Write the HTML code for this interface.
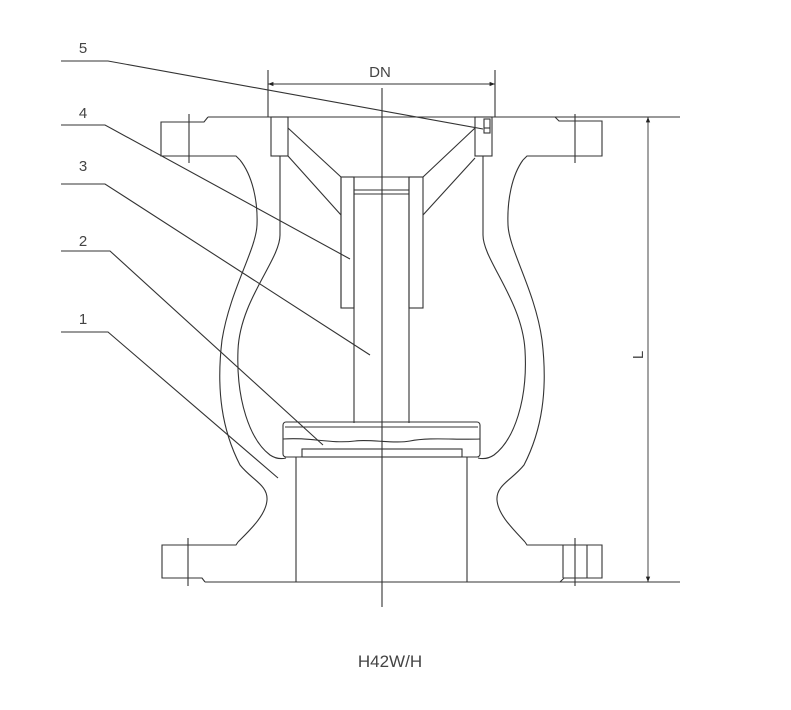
<!DOCTYPE html>
<html><head><style>html,body{margin:0;padding:0;background:#fff;}svg{display:block}</style></head>
<body>
<svg width="791" height="710" viewBox="0 0 791 710" xmlns="http://www.w3.org/2000/svg">
<defs>
<marker id="a" viewBox="0 0 10 10" refX="10" refY="5" markerWidth="8" markerHeight="6" orient="auto-start-reverse"><path d="M0,1 L10,5 L0,9 z" fill="#222"/></marker>
</defs>
<g fill="none" stroke="#333" stroke-width="1.1">
<!-- top & bottom faces -->
<line x1="208" y1="117" x2="680" y2="117"/>
<line x1="205" y1="582" x2="680" y2="582"/>
<!-- left top flange -->
<polyline points="208,117 204,122 161,122 161,156 236,156 240,160"/>
<line x1="189" y1="114" x2="189" y2="163"/>
<!-- right top flange -->
<polyline points="555,117 559,121 602,121 602,156 527,156 523,160"/>
<line x1="575" y1="114" x2="575" y2="163"/>
<!-- left bottom flange -->
<polyline points="238,542 236,545 162,545 162,578 202,578 205,582"/>
<line x1="188" y1="538" x2="188" y2="586"/>
<!-- right bottom flange -->
<polyline points="525,542 527,545 602,545 602,578 564,578 560,582"/>
<line x1="563" y1="545" x2="563" y2="578"/>
<line x1="575" y1="538" x2="575" y2="586"/>
<line x1="587" y1="545" x2="587" y2="578"/>
<!-- left body outer -->
<path d="M240,160 C252,175 258,200 257,225 C256,250 230,290 222,340 C216,390 222,430 240,465 C252,480 268,485 267,500 C266,515 250,530 238,542"/>
<!-- left body inner -->
<path d="M280,156 L280,235 C280,260 240,300 238,350 C236,400 250,440 270,455 C276,459 282,459 286,458"/>
<!-- right body outer -->
<path d="M523,160 C512,175 507,200 508,225 C509,250 535,290 542,340 C548,390 542,430 524,465 C512,480 496,485 497,500 C498,515 514,530 525,542"/>
<!-- right body inner -->
<path d="M483,156 L483,235 C483,260 522,300 525,350 C528,400 514,440 494,455 C488,459 482,459 478,458"/>
<!-- top seats -->
<rect x="271" y="117" width="17" height="39"/>
<rect x="475" y="117" width="17" height="39"/>
<rect x="484" y="119" width="6" height="14"/>
<line x1="484" y1="128" x2="490" y2="128"/>
<!-- ribs -->
<line x1="288" y1="128" x2="341" y2="177"/>
<line x1="288" y1="156" x2="341" y2="215"/>
<line x1="475" y1="128" x2="423" y2="177"/>
<line x1="475" y1="158" x2="423" y2="215"/>
<!-- guide hub -->
<polyline points="341,177 423,177"/>
<rect x="341" y="177" width="13" height="131"/>
<rect x="409" y="177" width="14" height="131"/>
<line x1="341" y1="177" x2="341" y2="308"/>
<!-- stem -->
<line x1="354" y1="177" x2="354" y2="423"/>
<line x1="409" y1="177" x2="409" y2="423"/>
<line x1="354" y1="190" x2="409" y2="190"/>
<line x1="354" y1="194" x2="409" y2="194"/>
<!-- disc -->
<rect x="283" y="422" width="197" height="35" rx="3"/>
<line x1="285" y1="427" x2="478" y2="427"/>
<path d="M283,439 C310,437 330,444 355,441 C370,439 395,444 410,441 C430,437 455,440 480,439"/>
<rect x="302" y="449" width="160" height="8"/>
<!-- lower pipe -->
<line x1="296" y1="457" x2="296" y2="582"/>
<line x1="467" y1="457" x2="467" y2="582"/>
<!-- centerline -->
<line x1="382" y1="88" x2="382" y2="607"/>
<!-- DN dimension -->
<line x1="268" y1="70" x2="268" y2="117"/>
<line x1="495" y1="70" x2="495" y2="117"/>
<line x1="268" y1="84" x2="495" y2="84" stroke-width="0.9" marker-start="url(#a)" marker-end="url(#a)"/>
<!-- L dimension -->
<line x1="648" y1="117" x2="648" y2="582" stroke-width="0.9" marker-start="url(#a)" marker-end="url(#a)"/>
<!-- leaders -->
<polyline points="61,61 108,61 483,129"/>
<polyline points="61,125 105,125 350,259"/>
<polyline points="61,184 105,184 370,355"/>
<polyline points="61,251 110,251 323,445"/>
<polyline points="61,332 108,332 278,478"/>
</g>
<g font-family="Liberation Sans, sans-serif" fill="#444" font-size="15">
<text x="83" y="53" text-anchor="middle">5</text>
<text x="83" y="118" text-anchor="middle">4</text>
<text x="83" y="171" text-anchor="middle">3</text>
<text x="83" y="246" text-anchor="middle">2</text>
<text x="83" y="324" text-anchor="middle">1</text>
<text x="380" y="77" text-anchor="middle">DN</text>
<text x="0" y="0" text-anchor="middle" transform="translate(643,355) rotate(-90)">L</text>
<text x="390" y="667" text-anchor="middle" font-size="17">H42W/H</text>
</g>
</svg>
</body></html>
